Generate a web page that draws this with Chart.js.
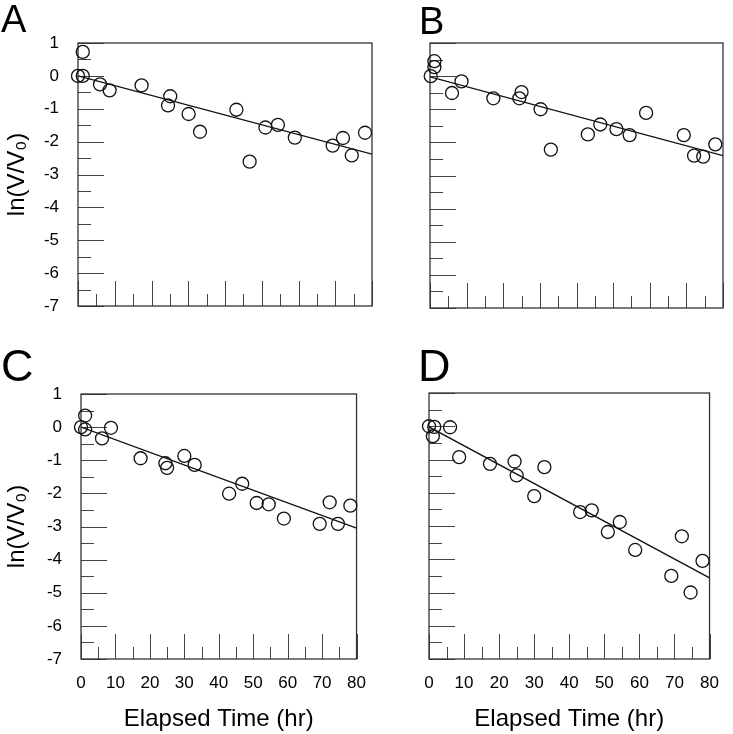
<!DOCTYPE html>
<html lang="en">
<head>
    <meta charset="UTF-8">
    <title>ln(V/V0) vs elapsed time</title>
    <script src="https://cdn.jsdelivr.net/npm/chart.js"></script>
    <style>
        body { margin: 0; background: #fff; }
        #wrap { position: relative; width: 733px; height: 734px; overflow: hidden; }
        #wrap canvas { position: absolute; }
        .tag {
            position: absolute;
            font-family: "Liberation Sans", Arial, sans-serif;
            line-height: 1;
            color: #000;
        }
    </style>
</head>
<body>
<div id="wrap">
    <canvas id="chA" width="380" height="340" style="left:0;top:0"></canvas>
    <canvas id="chB" width="353" height="320" style="left:380px;top:0"></canvas>
    <canvas id="chC" width="380" height="394" style="left:0;top:340px"></canvas>
    <canvas id="chD" width="353" height="394" style="left:380px;top:340px"></canvas>
    <div class="tag" style="left:1px;top:0;font-size:38px">A</div>
    <div class="tag" style="left:419px;top:2px;font-size:38px">B</div>
    <div class="tag" style="left:1px;top:343px;font-size:45px">C</div>
    <div class="tag" style="left:418px;top:343px;font-size:45px">D</div>
</div>
<script>
    // data: elapsed time (hr) and ln(V/V0)
    const timeA = [1.3, 0, 1.3, 6.0, 8.6, 17.3, 25.1, 24.5, 30.1, 33.2, 43.1, 46.7, 51.0, 54.4, 59.0, 69.3, 72.1, 74.5, 78.1];
    const lnA   = [0.73, 0.0, 0.0, -0.26, -0.44, -0.29, -0.62, -0.90, -1.16, -1.70, -1.03, -2.61, -1.57, -1.49, -1.88, -2.12, -1.89, -2.42, -1.73];
    const fitA  = [0.0, -2.38];

    const timeB = [1.2, 1.2, 0.2, 6.0, 8.6, 17.3, 24.4, 25.0, 30.2, 33.0, 43.1, 46.5, 50.9, 54.5, 59.0, 69.3, 72.1, 74.6, 77.9];
    const lnB   = [0.45, 0.27, 0.0, -0.51, -0.16, -0.67, -0.67, -0.48, -1.0, -2.22, -1.76, -1.46, -1.60, -1.78, -1.11, -1.78, -2.40, -2.43, -2.06];
    const fitB  = [-0.02, -2.40];

    const timeC = [1.2, 0, 1.2, 6.1, 8.7, 17.3, 24.5, 25.0, 30.0, 33.0, 43.0, 46.8, 51.0, 54.5, 58.9, 69.3, 72.2, 74.6, 78.2];
    const lnC   = [0.35, 0.0, -0.07, -0.34, -0.02, -0.94, -1.09, -1.23, -0.87, -1.14, -2.01, -1.71, -2.29, -2.33, -2.76, -2.92, -2.27, -2.92, -2.37];
    const fitC  = [0.0, -3.05];

    const timeD = [0, 1.5, 1.1, 6.0, 8.6, 17.4, 24.4, 25.0, 30.0, 32.9, 43.1, 46.4, 51.0, 54.4, 58.8, 69.1, 72.1, 74.6, 78.0];
    const lnD   = [0.0, -0.02, -0.30, -0.03, -0.93, -1.13, -1.06, -1.48, -2.10, -1.23, -2.58, -2.53, -3.18, -2.88, -3.72, -4.50, -3.31, -5.0, -4.05];
    const fitD  = [-0.02, -4.56];

    const xRange = [0, 80];
    const yRange = [-7, 1];

    const FONT = '"Liberation Sans", Arial, sans-serif';

    // closed box plus inward tick marks (long at majors, short at halves)
    const boxTicks = {
        id: 'boxTicks',
        beforeDatasetsDraw(chart) {
            const { ctx, chartArea: a, scales: { x, y } } = chart;
            ctx.save();
            ctx.strokeStyle = '#444';
            ctx.lineWidth = 1;
            ctx.beginPath();
            const yt = y.ticks.map(t => t.value);
            yt.forEach((v, i) => {
                const py = Math.round(y.getPixelForValue(v)) + 0.5;
                ctx.moveTo(a.left, py); ctx.lineTo(a.left + 26, py);
                if (i < yt.length - 1) {
                    const pm = Math.round(y.getPixelForValue((v + yt[i + 1]) / 2)) + 0.5;
                    ctx.moveTo(a.left, pm); ctx.lineTo(a.left + 13, pm);
                }
            });
            const xt = x.ticks.map(t => t.value);
            xt.forEach((v, i) => {
                const px = Math.round(x.getPixelForValue(v)) + 0.5;
                ctx.moveTo(px, a.bottom); ctx.lineTo(px, a.bottom - 25);
                if (i < xt.length - 1) {
                    const pm = Math.round(x.getPixelForValue((v + xt[i + 1]) / 2)) + 0.5;
                    ctx.moveTo(pm, a.bottom); ctx.lineTo(pm, a.bottom - 12);
                }
            });
            ctx.stroke();
            ctx.strokeStyle = '#333';
            ctx.lineWidth = 1.3;
            ctx.strokeRect(a.left, a.top, a.right - a.left, a.bottom - a.top);
            ctx.restore();
        }
    };

    function panel(id, times, vals, fit, p) {
        const pts = times.map((t, i) => ({ x: t, y: vals[i] }));
        new Chart(document.getElementById(id), {
            type: 'scatter',
            data: {
                datasets: [{
                    data: pts,
                    pointRadius: 6.5,
                    pointBorderWidth: 1.3,
                    pointBorderColor: '#111',
                    pointBackgroundColor: 'rgba(0,0,0,0)',
                    clip: false
                }, {
                    type: 'line',
                    data: [{ x: xRange[0], y: fit[0] }, { x: xRange[1], y: fit[1] }],
                    borderColor: '#111',
                    borderWidth: 1.3,
                    pointRadius: 0,
                    fill: false
                }]
            },
            options: {
                responsive: false,
                animation: false,
                events: [],
                layout: { padding: { top: p.top, right: p.right, left: 0, bottom: 0 } },
                plugins: { legend: { display: false }, tooltip: { enabled: false } },
                scales: {
                    x: {
                        type: 'linear',
                        min: xRange[0], max: xRange[1],
                        grid: { display: false, drawTicks: false },
                        border: { display: false },
                        ticks: {
                            display: p.xLabels, stepSize: 10, padding: 14, maxRotation: 0,
                            color: '#000', font: { family: FONT, size: 17 }
                        },
                        title: {
                            display: p.xLabels, text: 'Elapsed Time (hr)', color: '#000',
                            font: { family: FONT, size: 24 }, padding: { top: 0, bottom: 0 }
                        },
                        afterFit: s => { s.height = p.xh; }
                    },
                    y: {
                        min: yRange[0], max: yRange[1],
                        grid: { display: false, drawTicks: false },
                        border: { display: false },
                        ticks: {
                            display: p.yLabels, stepSize: 1, padding: 19,
                            color: '#000', font: { family: FONT, size: 17 }
                        },
                        title: {
                            display: p.yLabels, text: 'ln(V/V₀)', color: '#000',
                            font: { family: FONT, size: 24 }, padding: { top: 3, bottom: 0 }
                        },
                        afterFit: s => { s.width = p.yw; }
                    }
                }
            },
            plugins: [boxTicks]
        });
    }

    panel('chA', timeA, lnA, fitA, { top: 43, right: 8, xh: 34, yw: 78, xLabels: false, yLabels: true });
    panel('chB', timeB, lnB, fitB, { top: 43, right: 10, xh: 12, yw: 50, xLabels: false, yLabels: false });
    panel('chC', timeC, lnC, fitC, { top: 54, right: 8, xh: 75, yw: 81, xLabels: true, yLabels: true });
    panel('chD', timeD, lnD, fitD, { top: 53, right: 10, xh: 75, yw: 49, xLabels: true, yLabels: false });
</script>
</body>
</html>
